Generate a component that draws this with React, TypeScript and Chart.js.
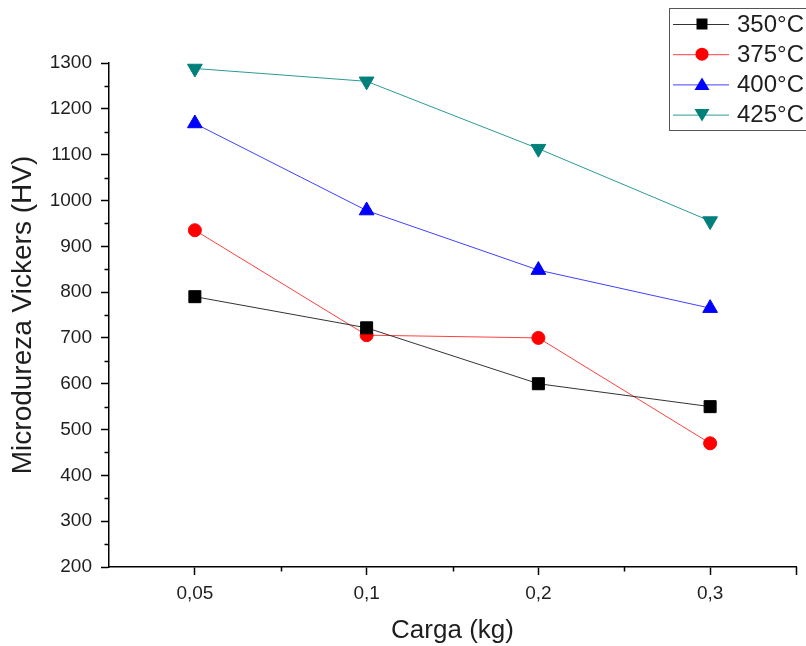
import React, { useEffect, useRef } from 'react';
import { Chart, registerables } from 'chart.js';

Chart.register(...registerables);

const categories = ['0,05', '0,1', '0,2', '0,3'];
const seriesNames = ['350°C', '375°C', '400°C', '425°C'];
const values350 = [790, 722, 600, 550];
const values375 = [935, 706, 700, 470];
const values400 = [1168, 978, 848, 765];
const values425 = [1288, 1260, 1113, 955];
const yMin = 200;
const yMax = 1300;
const yStep = 100;
const xTitle = 'Carga (kg)';
const yTitle = 'Microdureza Vickers (HV)';

const FONT = '"Liberation Sans", Arial, Helvetica, sans-serif';
const TEXT = '#1e1e1e';

const styles = [
  { color: '#000000', line: '#333333', shape: 'rect' },
  { color: '#ff0000', line: '#ff4040', shape: 'circle' },
  { color: '#0000ff', line: '#4040ff', shape: 'up' },
  { color: '#00807a', line: '#2a9a94', shape: 'down' },
];

function drawMarker(ctx: CanvasRenderingContext2D, shape: string, x: number, y: number, color: string) {
  ctx.fillStyle = color;
  ctx.beginPath();
  if (shape === 'rect') {
    ctx.rect(x - 5.5, y - 5.5, 11, 11);
  } else if (shape === 'circle') {
    ctx.arc(x, y, 6.5, 0, Math.PI * 2);
  } else if (shape === 'up') {
    ctx.moveTo(x, y - 7);
    ctx.lineTo(x + 7.5, y + 5.5);
    ctx.lineTo(x - 7.5, y + 5.5);
    ctx.closePath();
  } else {
    ctx.moveTo(x, y + 7);
    ctx.lineTo(x + 7.5, y - 5.5);
    ctx.lineTo(x - 7.5, y - 5.5);
    ctx.closePath();
  }
  ctx.fill();
}

const minorTicksPlugin = {
  id: 'minorTicks',
  afterDraw(chart: any) {
    const ctx = chart.ctx as CanvasRenderingContext2D;
    const xs = chart.scales.x;
    const ys = chart.scales.y;
    ctx.save();
    ctx.strokeStyle = '#000';
    ctx.lineWidth = 1.5;
    ctx.beginPath();
    for (let v = yMin + yStep / 2; v < yMax; v += yStep) {
      const py = Math.round(ys.getPixelForValue(v)) + 0.5;
      ctx.moveTo(xs.left - 4.5, py);
      ctx.lineTo(xs.left, py);
    }
    const n = categories.length;
    const band = (xs.right - xs.left) / n;
    for (let i = 1; i <= n; i++) {
      const px = Math.round(xs.left + band * i) + 0.5;
      ctx.moveTo(px, ys.bottom);
      ctx.lineTo(px, ys.bottom + (i === n ? 8 : 4.5));
    }
    ctx.stroke();
    ctx.restore();
  },
};

const legendPlugin = {
  id: 'boxLegend',
  afterDraw(chart: any) {
    const ctx = chart.ctx as CanvasRenderingContext2D;
    ctx.save();
    ctx.strokeStyle = '#555';
    ctx.lineWidth = 1;
    ctx.strokeRect(669.5, 8.5, 160, 122);
    seriesNames.forEach((name, i) => {
      const y = 24 + i * 30.2;
      const st = styles[i];
      ctx.strokeStyle = st.line;
      ctx.lineWidth = 1;
      ctx.beginPath();
      ctx.moveTo(673, y + 0.5);
      ctx.lineTo(729, y + 0.5);
      ctx.stroke();
      drawMarker(ctx, st.shape, 702, y, st.color);
      ctx.fillStyle = TEXT;
      ctx.font = `24px ${FONT}`;
      ctx.textBaseline = 'middle';
      ctx.textAlign = 'left';
      ctx.fillText(name, 737, y + 1);
    });
    ctx.restore();
  },
};

export default function App() {
  const ref = useRef<HTMLCanvasElement | null>(null);

  useEffect(() => {
    if (!ref.current) return;
    const all = [values350, values375, values400, values425];
    const chart = new Chart(ref.current, {
      type: 'line',
      data: {
        labels: categories,
        datasets: all.map((vals, i) => ({
          label: seriesNames[i],
          data: vals,
          borderColor: styles[i].line,
          backgroundColor: styles[i].color,
          pointBackgroundColor: styles[i].color,
          pointBorderColor: styles[i].color,
          borderWidth: 1,
          pointBorderWidth: 1,
          pointStyle: styles[i].shape === 'rect' ? 'rect' : styles[i].shape === 'circle' ? 'circle' : 'triangle',
          pointRotation: styles[i].shape === 'down' ? 180 : 0,
          pointRadius: styles[i].shape === 'rect' ? 8.5 : styles[i].shape === 'circle' ? 6.5 : 8.5,
          tension: 0,
          fill: false,
        })),
      },
      options: {
        animation: false,
        responsive: true,
        maintainAspectRatio: false,
        layout: { padding: { top: 63, right: 10, left: 0, bottom: 0 } },
        plugins: {
          legend: { display: false },
          tooltip: { enabled: false },
        },
        scales: {
          x: {
            type: 'category',
            offset: true,
            grid: {
              display: true,
              drawOnChartArea: false,
              drawTicks: true,
              tickLength: 8,
              tickColor: '#000',
              tickWidth: 1.5,
              offset: false,
            },
            border: { display: true, color: '#000', width: 1.5 },
            ticks: {
              color: TEXT,
              font: { family: FONT, size: 19 },
              padding: 7,
              maxRotation: 0,
            },
            title: {
              display: true,
              text: xTitle,
              color: TEXT,
              font: { family: FONT, size: 26 },
              padding: { top: 2, bottom: 0 },
            },
            afterFit: (scale: any) => {
              scale.height = 79;
            },
          },
          y: {
            type: 'linear',
            min: yMin,
            max: yMax,
            grid: {
              display: true,
              drawOnChartArea: false,
              drawTicks: true,
              tickLength: 8,
              tickColor: '#000',
              tickWidth: 1.5,
            },
            border: { display: true, color: '#000', width: 1.5 },
            ticks: {
              stepSize: yStep,
              color: TEXT,
              font: { family: FONT, size: 19 },
              padding: 9,
              callback: (v: any) => String(v),
            },
            title: {
              display: true,
              text: yTitle,
              color: TEXT,
              font: { family: FONT, size: 28 },
              padding: { top: 6, bottom: 2 },
            },
            afterFit: (scale: any) => {
              scale.width = 109;
            },
          },
        },
      },
      plugins: [minorTicksPlugin, legendPlugin],
    });
    return () => chart.destroy();
  }, []);

  return (
    <div style={{ position: 'absolute', left: 0, top: 0, width: 806, height: 646, background: '#fff' }}>
      <canvas ref={ref} />
    </div>
  );
}
